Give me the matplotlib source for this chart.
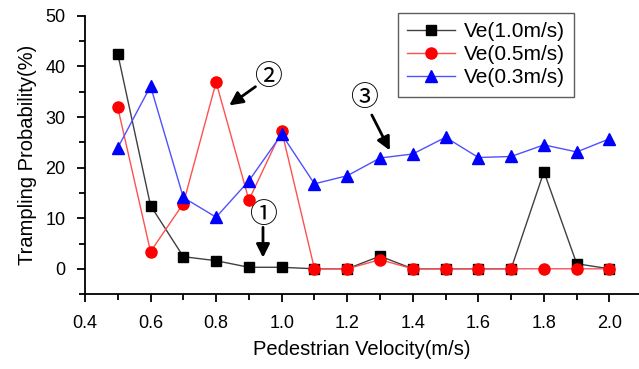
import matplotlib
matplotlib.use("Agg")
import matplotlib.pyplot as plt
from matplotlib.ticker import MultipleLocator, FormatStrFormatter

plt.rcParams['font.family'] = ['Liberation Sans', 'DejaVu Sans', 'Noto Sans CJK SC']

velocity = [0.5, 0.6, 0.7, 0.8, 0.9, 1.0, 1.1, 1.2, 1.3, 1.4, 1.5, 1.6, 1.7, 1.8, 1.9, 2.0]
ve_10 = [42.5, 12.5, 2.4, 1.6, 0.3, 0.3, 0, 0, 2.5, 0, 0, 0, 0, 19.2, 1.0, 0]
ve_05 = [31.9, 3.4, 12.9, 36.9, 13.6, 27.3, 0, 0, 1.8, 0, 0, 0, 0, 0, 0, 0]
ve_03 = [23.9, 36.1, 14.1, 10.2, 17.4, 26.6, 16.8, 18.4, 21.9, 22.7, 26.0, 22.0, 22.2, 24.5, 23.1, 25.7]
labels = ["Ve(1.0m/s)", "Ve(0.5m/s)", "Ve(0.3m/s)"]

fig = plt.figure(figsize=(6.39, 3.69), dpi=100)
ax = fig.add_axes([0.133, 0.203, 0.867, 0.754])

ax.plot(velocity, ve_10, color='#404040', lw=1.0, marker='s', ms=7,
        mfc='black', mec='black', label=labels[0], zorder=3)
ax.plot(velocity, ve_05, color='#ff5050', lw=1.0, marker='o', ms=8,
        mfc='red', mec='red', label=labels[1], zorder=4)
ax.plot(velocity, ve_03, color='#5050ff', lw=1.0, marker='^', ms=9,
        mfc='blue', mec='blue', label=labels[2], zorder=5)

ax.set_xlim(0.4, 2.09)
ax.set_ylim(-5, 50)
ax.xaxis.set_major_locator(MultipleLocator(0.2))
ax.xaxis.set_minor_locator(MultipleLocator(0.1))
ax.xaxis.set_major_formatter(FormatStrFormatter('%.1f'))
ax.yaxis.set_major_locator(MultipleLocator(10))
ax.yaxis.set_minor_locator(MultipleLocator(5))
ax.tick_params(which='major', direction='out', length=6, width=1.3, labelsize=13)
ax.tick_params(axis='x', which='major', pad=9)
ax.tick_params(axis='y', which='major', pad=8)
ax.tick_params(which='minor', direction='out', length=4, width=1.3)
ax.spines['top'].set_visible(False)
ax.spines['right'].set_visible(False)
ax.spines['left'].set_linewidth(1.3)
ax.spines['bottom'].set_linewidth(1.3)

ax.set_xlabel("Pedestrian Velocity(m/s)", fontsize=14.5, labelpad=6)
ax.set_ylabel("Trampling Probability(%)", fontsize=14.5, labelpad=6)

leg = ax.legend(loc='upper left', bbox_to_anchor=(0.565, 1.012), fontsize=15,
                frameon=True, fancybox=False, edgecolor='#333333',
                handlelength=2.3, borderpad=0.45, labelspacing=0.2, handletextpad=0.4,
                borderaxespad=0)
leg.get_frame().set_linewidth(1.0)

circ_font = ['Noto Sans CJK SC', 'DejaVu Sans']
arrow = dict(arrowstyle='-|>', color='black', lw=2.0, mutation_scale=20,
             shrinkA=0, shrinkB=0)
ax.annotate('', xy=(0.943, 2.2), xytext=(0.943, 8.2), arrowprops=arrow)
ax.text(0.943, 10.6, '\u2460', fontsize=20, ha='center', va='center', family=circ_font)
ax.annotate('', xy=(0.84, 32.3), xytext=(0.92, 36.0), arrowprops=arrow)
ax.text(0.958, 37.9, '\u2461', fontsize=20, ha='center', va='center', family=circ_font)
ax.annotate('', xy=(1.33, 23.4), xytext=(1.275, 30.4), arrowprops=arrow)
ax.text(1.252, 33.7, '\u2462', fontsize=20, ha='center', va='center', family=circ_font)

fig.savefig("out.png", dpi=100)
